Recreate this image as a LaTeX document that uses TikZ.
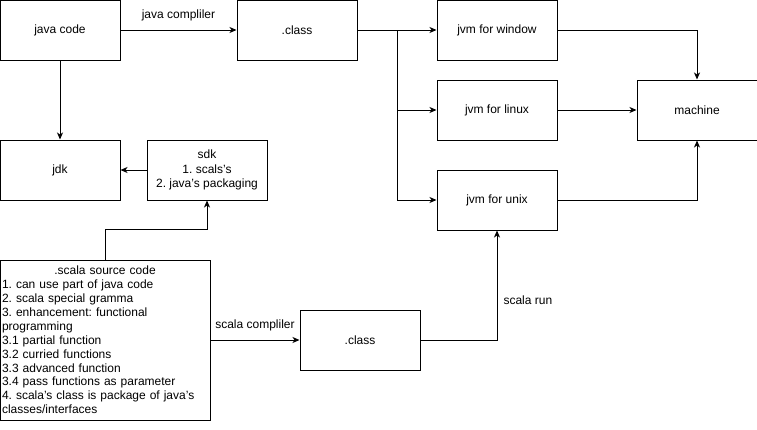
\documentclass[tikz,border=0pt]{standalone}
\usepackage{fontspec}
\setmainfont{Liberation Sans}
\frenchspacing
\usetikzlibrary{arrows.meta,positioning}

\begin{document}
\begin{tikzpicture}[x=1pt,y=-1pt]
	\tikzset{BoxStyle/.style =
		{draw,
			shape = rectangle,
			line width = 1pt,
			minimum width = 120pt,
			minimum height = 60pt,
			inner sep = 0pt,
			align = center,
			font = \fontsize{12}{14.5}\selectfont},
		EdgeStyle/.style = {line width = 1pt, -{Stealth[length=7pt,width=6pt,inset=2pt]}},
		LabelStyle/.style = {font = \fontsize{12}{14}\selectfont, inner sep = 0pt}}
	\useasboundingbox (0,0) rectangle (757,429);
	%\draw[gray!30] (0,0) grid[step=20] (757,429);
	\node[BoxStyle] (javacode) at (60,30) {java code};
	\node[BoxStyle] (classA) at (297,30) {.class};
	\node[BoxStyle] (window) at (497,30) {jvm for window};
	\node[BoxStyle] (linux) at (497,110) {jvm for linux};
	\node[BoxStyle] (unix) at (497,200) {jvm for unix};
	\node[BoxStyle] (machine) at (697,110) {machine};
	\node[BoxStyle] (jdk) at (60,170) {jdk};
	\node[BoxStyle] (sdk) at (207,170) {sdk\\1. scals's\\2. java's packaging};
	\node[BoxStyle, minimum width = 210pt, minimum height = 160pt,
		text width = 206pt, align = left, font = \fontsize{12}{13.9}\selectfont] (scala) at (105,340)
		{\makebox[\linewidth]{.scala source code}\\
		1. can use part of java code\\
		2. scala special gramma\\
		3. enhancement: functional\\
		programming\\
		3.1 partial function\\
		3.2 curried functions\\
		3.3 advanced function\\
		3.4 pass functions as parameter\\
		4. scala's class is package of java's\\
		classes/interfaces};
	\node[BoxStyle] (classB) at (360,340) {.class};
	\coordinate (split) at (397,30);
	\draw[EdgeStyle] (javacode) -- node[LabelStyle, above=9pt] {java compliler} (classA);
	\draw[EdgeStyle] (javacode) -- (jdk);
	\draw[EdgeStyle] (sdk) -- (jdk);
	\draw[EdgeStyle] (scala.north) -- ++(0,-30) -| (sdk.south);
	\draw[EdgeStyle] (classA) -- (window);
	\draw[EdgeStyle] (split) |- (linux);
	\draw[EdgeStyle] (split) |- (unix);
	\draw[EdgeStyle] (window) -| (machine);
	\draw[EdgeStyle] (linux) -- (machine);
	\draw[EdgeStyle] (unix) -| (machine);
	\draw[EdgeStyle] (scala.east) -- node[LabelStyle, above=9pt] {scala compliler} (classB);
	\draw[EdgeStyle] (classB) -| node[LabelStyle, pos=0.68, right=6pt] {scala run} (unix.south);
\end{tikzpicture}
\end{document}
